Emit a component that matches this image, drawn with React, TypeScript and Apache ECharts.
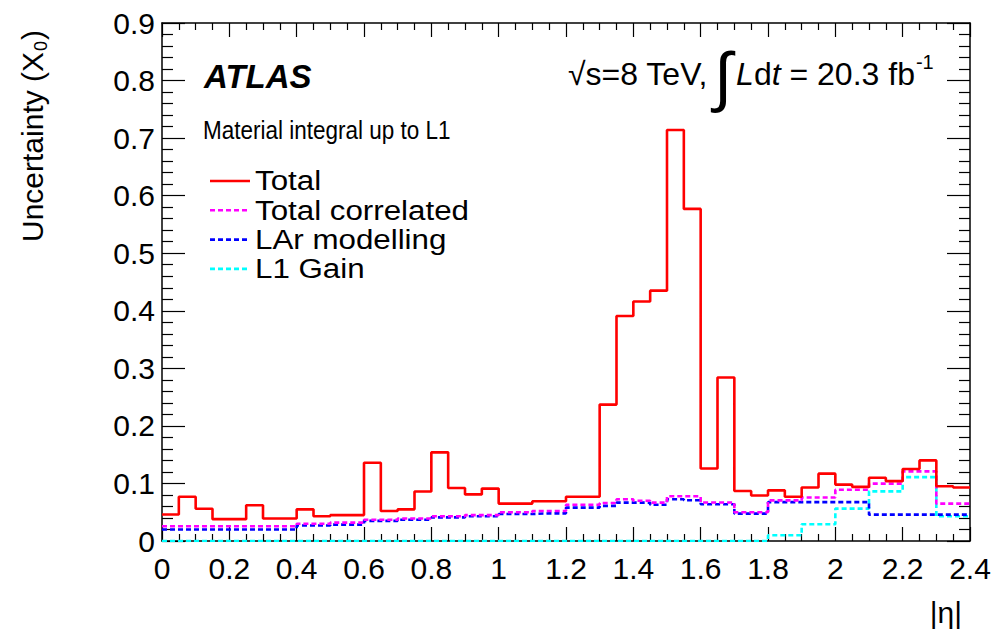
import React, { useEffect, useRef } from "react";
import * as echarts from "echarts";

// Histogram binning in |eta|
const ETA_MIN = 0;
const ETA_MAX = 2.4;
const BIN_WIDTH = 0.05;

// Series values per bin (48 bins of 0.05 in |eta|)
const total = [
  0.046, 0.077, 0.056, 0.038, 0.038, 0.062, 0.039, 0.039,
  0.055, 0.043, 0.045, 0.045, 0.136, 0.052, 0.055, 0.086,
  0.154, 0.092, 0.081, 0.091, 0.065, 0.065, 0.069, 0.069,
  0.077, 0.077, 0.237, 0.391, 0.416, 0.435, 0.714, 0.577,
  0.126, 0.284, 0.087, 0.079, 0.088, 0.077, 0.093, 0.117,
  0.098, 0.094, 0.110, 0.104, 0.125, 0.140, 0.095, 0.093,
];

const totalCorrelated = [
  0.0255, 0.0255, 0.0255, 0.0255, 0.0255, 0.0255, 0.0255, 0.0255,
  0.030, 0.030, 0.032, 0.032, 0.037, 0.037, 0.039, 0.039,
  0.043, 0.043, 0.045, 0.045, 0.050, 0.050, 0.052, 0.052,
  0.063, 0.063, 0.066, 0.0725, 0.070, 0.0667, 0.0777, 0.0777,
  0.067, 0.067, 0.050, 0.050, 0.0705, 0.0705, 0.0755, 0.0755,
  0.089, 0.089, 0.0997, 0.0997, 0.121, 0.121, 0.065, 0.065,
];

const larModelling = [
  0.020, 0.020, 0.020, 0.020, 0.020, 0.020, 0.020, 0.020,
  0.027, 0.027, 0.0285, 0.0285, 0.035, 0.035, 0.037, 0.037,
  0.041, 0.041, 0.043, 0.043, 0.047, 0.047, 0.048, 0.048,
  0.058, 0.058, 0.061, 0.0667, 0.0667, 0.063, 0.0725, 0.0707,
  0.0638, 0.0638, 0.0476, 0.0476, 0.0675, 0.0675, 0.0675, 0.0675,
  0.0675, 0.0675, 0.0458, 0.0458, 0.0458, 0.0458, 0.0458, 0.0458,
];

const l1Gain = [
  0, 0, 0, 0, 0, 0, 0, 0,
  0, 0, 0, 0, 0, 0, 0, 0,
  0, 0, 0, 0, 0, 0, 0, 0,
  0, 0, 0, 0, 0, 0, 0, 0,
  0, 0, 0, 0, 0.0099, 0.0099, 0.029, 0.029,
  0.0563, 0.0563, 0.0863, 0.0863, 0.111, 0.111, 0.043, 0.043,
];

const seriesNames = ["Total", "Total correlated", "LAr modelling", "L1 Gain"];
const seriesColors = ["#ff0000", "#ff00ff", "#0000ff", "#00ffff"];

const FONT = "'Liberation Sans', Arial, Helvetica, sans-serif";
const DASH = [5, 3];

function stepData(vals: number[]) {
  const pts: number[][] = vals.map((v, i) => [ETA_MIN + i * BIN_WIDTH, v]);
  pts.push([ETA_MIN + vals.length * BIN_WIDTH, vals[vals.length - 1]]);
  return pts;
}

function measure(text: string, size: number, style = "normal", weight = "normal") {
  const ctx = document.createElement("canvas").getContext("2d");
  if (!ctx) return text.length * size * 0.55;
  ctx.font = `${style} ${weight} ${size}px 'Liberation Sans', Arial, sans-serif`;
  return ctx.measureText(text).width;
}

type Seg = { text: string; size: number; style?: string; weight?: string; dy?: number; dx?: number };

function chain(segs: Seg[], x0: number, y: number) {
  let x = x0;
  const out: any[] = [];
  for (const s of segs) {
    x += s.dx || 0;
    out.push({
      type: "text",
      x,
      y: y + (s.dy || 0),
      style: {
        text: s.text,
        fontSize: s.size,
        fontFamily: FONT,
        fontStyle: s.style || "normal",
        fontWeight: s.weight || "normal",
        fill: "#000",
        align: "left",
        verticalAlign: "middle",
      },
    });
    x += measure(s.text, s.size, s.style || "normal", s.weight || "normal");
  }
  return out;
}

function legendItems(x: number, y0: number, rowGap: number) {
  const out: any[] = [];
  seriesNames.forEach((name, i) => {
    const y = y0 + i * rowGap;
    out.push({
      type: "line",
      shape: { x1: x, y1: y, x2: x + 40, y2: y },
      style: {
        stroke: seriesColors[i],
        lineWidth: 2.6,
        lineDash: i === 0 ? null : DASH,
      },
    });
    out.push({
      type: "text",
      x: x + 45,
      y,
      scaleX: 1.16,
      style: {
        text: name,
        fontSize: 27,
        fontFamily: FONT,
        fill: "#000",
        align: "left",
        verticalAlign: "middle",
      },
    });
  });
  return out;
}

export default function App() {
  const ref = useRef<HTMLDivElement>(null);

  useEffect(() => {
    if (!ref.current) return;
    const chart = echarts.init(ref.current, undefined, { renderer: "svg" });

    const axisCommon = {
      type: "value" as const,
      axisLine: { show: true, onZero: false, lineStyle: { color: "#000", width: 1.5 } },
      splitLine: { show: false },
    };

    const xAxisBase = {
      ...axisCommon,
      min: ETA_MIN,
      max: ETA_MAX,
      interval: 0.2,
      axisTick: { show: true, inside: true, length: 14, lineStyle: { color: "#000", width: 1.2 } },
      minorTick: { show: true, splitNumber: 4, length: 7, lineStyle: { color: "#000", width: 1.2 } },
    };
    const yAxisBase = {
      ...axisCommon,
      min: 0,
      max: 0.9,
      interval: 0.1,
      axisTick: { show: true, inside: true, length: 23, lineStyle: { color: "#000", width: 1.2 } },
      minorTick: { show: true, splitNumber: 5, length: 11, lineStyle: { color: "#000", width: 1.2 } },
    };

    const yTitleSize = 30;
    const yTitleMain = "Uncertainty (X";
    const wMain = measure(yTitleMain, yTitleSize);

    const energySegs: Seg[] = [
      { text: "\u221As=8 TeV,", size: 32 },
      { text: "\u222B", size: 66, dx: 6, dy: 2 },
      { text: "L", size: 32, style: "italic", dx: 4 },
      { text: "d", size: 32 },
      { text: "t", size: 32, style: "italic" },
      { text: " = 20.3 fb", size: 32 },
      { text: "-1", size: 20, dy: -12, dx: 1 },
    ];

    const option: any = {
      animation: false,
      backgroundColor: "#fff",
      grid: { left: 162, right: 26, top: 23, bottom: 96, containLabel: false },
      xAxis: [
        {
          ...xAxisBase,
          position: "bottom",
          axisLabel: { show: true, fontSize: 30, color: "#000", margin: 12, fontFamily: FONT },
        },
        {
          ...xAxisBase,
          position: "top",
          axisLabel: { show: false },
        },
      ],
      yAxis: [
        {
          ...yAxisBase,
          position: "left",
          axisLabel: { show: true, fontSize: 30, color: "#000", margin: 7, fontFamily: FONT },
        },
        {
          ...yAxisBase,
          position: "right",
          axisLabel: { show: false },
        },
      ],
      series: [
        { vals: l1Gain, idx: 3 },
        { vals: larModelling, idx: 2 },
        { vals: totalCorrelated, idx: 1 },
        { vals: total, idx: 0 },
      ].map(({ vals, idx }) => ({
        name: seriesNames[idx],
        type: "line",
        step: "end",
        xAxisIndex: 0,
        yAxisIndex: 0,
        symbol: "none",
        data: stepData(vals),
        itemStyle: { color: seriesColors[idx] },
        lineStyle: {
          color: seriesColors[idx],
          width: 2.6,
          type: idx === 0 ? "solid" : DASH,
        },
        z: 10 - idx,
      })),
      graphic: [
        {
          type: "text",
          x: 204,
          y: 76,
          style: {
            text: "ATLAS",
            fontSize: 33,
            fontStyle: "italic",
            fontWeight: "bold",
            fontFamily: FONT,
            fill: "#000",
            verticalAlign: "middle",
          },
        },
        {
          type: "text",
          x: 203,
          y: 130,
          scaleY: 1.15,
          style: {
            text: "Material integral up to L1",
            fontSize: 22.5,
            fontFamily: FONT,
            fill: "#000",
            verticalAlign: "middle",
          },
        },
        ...chain(energySegs, 568, 74),
        ...legendItems(210, 181, 29.3),
        {
          type: "group",
          x: 32,
          y: 242,
          rotation: Math.PI / 2,
          children: [
            {
              type: "text",
              x: 0,
              y: 0,
              style: {
                text: yTitleMain,
                fontSize: yTitleSize,
                fontFamily: FONT,
                fill: "#000",
                align: "left",
                verticalAlign: "middle",
              },
            },
            {
              type: "text",
              x: wMain + 1,
              y: 9,
              style: {
                text: "0",
                fontSize: 18,
                fontFamily: FONT,
                fill: "#000",
                align: "left",
                verticalAlign: "middle",
              },
            },
            {
              type: "text",
              x: wMain + 12,
              y: 0,
              style: {
                text: ")",
                fontSize: yTitleSize,
                fontFamily: FONT,
                fill: "#000",
                align: "left",
                verticalAlign: "middle",
              },
            },
          ],
        },
        {
          type: "text",
          x: 962,
          y: 612,
          style: {
            text: "|\u03B7|",
            fontSize: 30,
            fontFamily: FONT,
            fill: "#000",
            align: "right",
            verticalAlign: "middle",
          },
        },
      ],
    };

    chart.setOption(option);
    return () => chart.dispose();
  }, []);

  return (
    <div
      ref={ref}
      style={{ position: "fixed", left: 0, top: 0, width: 996, height: 637, background: "#fff" }}
    />
  );
}
